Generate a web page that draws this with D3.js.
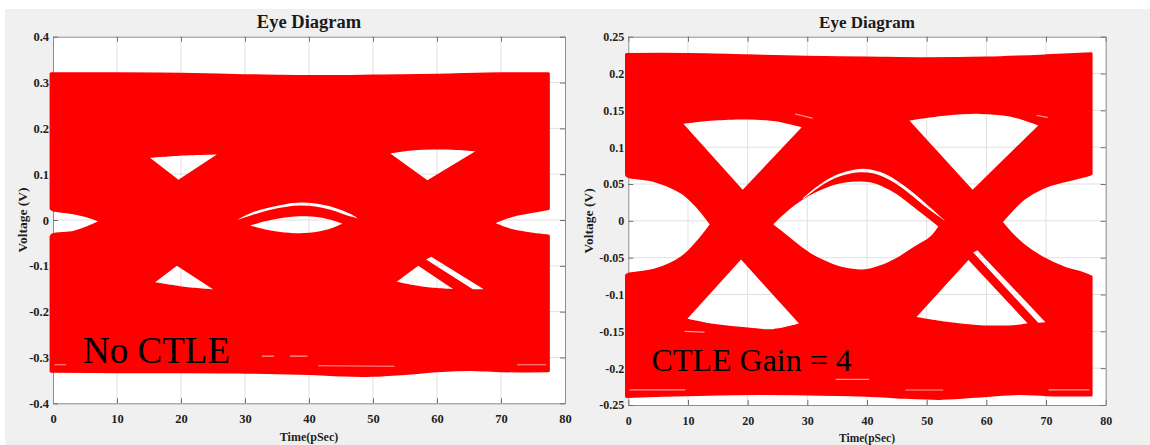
<!DOCTYPE html>
<html>
<head>
<meta charset="utf-8">
<script src="https://cdn.jsdelivr.net/npm/d3@7"></script>
<style>
  html, body { margin: 0; padding: 0; background: #ffffff; }
  svg { display: block; }
</style>
</head>
<body>
<svg id="chart" width="1150" height="445"></svg>
<script>
// ---------------------------------------------------------------
// Eye diagrams: receiver waveform without CTLE and with CTLE gain 4.
// Every shape is a list of [time (ps), voltage (V)] points.
// ---------------------------------------------------------------

// shared axis values
const timeTicks = [0, 10, 20, 30, 40, 50, 60, 70, 80];
const timeTickLabels = ["0", "10", "20", "30", "40", "50", "60", "70", "80"];

// ---------- No CTLE ----------
const noCtleVoltTicks = [-0.4, -0.3, -0.2, -0.1, 0, 0.1, 0.2, 0.3, 0.4];
const noCtleVoltLabels = ["-0.4", "-0.3", "-0.2", "-0.1", "0", "0.1", "0.2", "0.3", "0.4"];

// outer envelope of all traces
const noCtleTop = [[-0.3, 0.319], [10, 0.319], [20, 0.318], [30, 0.315], [40, 0.313], [50, 0.314], [60, 0.316], [70, 0.319], [77.4, 0.319]];
const noCtleRightOpenUpper = [[77.4, 0.025], [75, 0.019], [72.3, 0.012], [70.5, 0.004], [68.6, -0.007]];
const noCtleRightOpenLower = [[68.6, -0.007], [70.5, -0.018], [72.3, -0.025], [75, -0.031], [77.4, -0.035]];
const noCtleBottom = [[77.4, -0.329], [70, -0.329], [65.3, -0.326], [60, -0.329], [55, -0.335], [50, -0.339], [45, -0.338], [40, -0.335], [30, -0.332], [20, -0.331], [10, -0.331], [-0.3, -0.330]];
const noCtleLeftOpenLower = [[-0.3, -0.036], [0, -0.032], [3.2, -0.027], [5.3, -0.017], [7.6, -0.003]];
const noCtleLeftOpenUpper = [[7.6, -0.003], [5.3, 0.009], [3.2, 0.016], [0, 0.022], [-0.3, 0.025]];

// openings inside the envelope
const noCtleUpperEye1Top = [[15.2, 0.1355], [20.5, 0.1405], [25.6, 0.1428]];
const noCtleUpperEye1Tip = [[19.6, 0.0881]];
const noCtleUpperEye2Top = [[52.7, 0.145], [56, 0.1515], [59.5, 0.1538], [63, 0.153], [66.0, 0.150]];
const noCtleUpperEye2Tip = [[58.5, 0.0866]];
const noCtleLowerEye1Tip = [[19.36, -0.1001]];
const noCtleLowerEye1Base = [[25.0, -0.1511], [20.5, -0.1455], [15.96, -0.1359]];
const noCtleLowerEye2Tip = [[57.07, -0.1001]];
const noCtleLowerEye2Base = [[62.5, -0.1505], [58, -0.1455], [53.7, -0.1345]];
const noCtleStrip = [[58.3, -0.086], [59.1, -0.080], [67.3, -0.151], [65.6, -0.151]];
const noCtleCentreTop = [[30.8, -0.012], [33, -0.003], [35.5, 0.004], [38.5, 0.008], [41.5, 0.006], [43.5, 0.0], [45.2, -0.008]];
const noCtleCentreBottom = [[45.2, -0.008], [43.5, -0.018], [41.5, -0.025], [38.5, -0.0287], [35.5, -0.026], [33, -0.02], [30.8, -0.012]];
const noCtleArcUpper = [[28.7, 0.0], [31, 0.016], [34, 0.028], [36.5, 0.035], [38.7, 0.038], [41, 0.036], [44, 0.027], [46.5, 0.013], [47.6, 0.004]];
const noCtleArcLower = [[47.6, 0.004], [46, 0.010], [43.5, 0.022], [41, 0.0295], [38.7, 0.0315], [36.5, 0.029], [34, 0.0225], [31, 0.0105], [28.7, 0.0]];

// hairline gaps between neighbouring traces
const noCtleTraceGaps = [
  [[0.3, -0.316], [2.0, -0.316]],
  [[72.6, -0.316], [77.0, -0.316]],
  [[32.7, -0.297], [34.5, -0.297]],
  [[37.1, -0.297], [39.7, -0.297]],
  [[41.5, -0.318], [53.3, -0.319]]
];

// ---------- CTLE gain = 4 ----------
const ctleVoltTicks = [-0.25, -0.2, -0.15, -0.1, -0.05, 0, 0.05, 0.1, 0.15, 0.2, 0.25];
const ctleVoltLabels = ["-0.25", "-0.2", "-0.15", "-0.1", "-0.05", "0", "0.05", "0.1", "0.15", "0.2", "0.25"];

const ctleTop = [[-0.3, 0.226], [10, 0.226], [20, 0.224], [30, 0.222], [40, 0.221], [50, 0.220], [60, 0.221], [70, 0.224], [77.55, 0.227]];
const ctleRightOpenUpper = [[77.55, 0.064], [76, 0.060], [73.2, 0.0546], [69.5, 0.0456], [66.2, 0.030], [64.2, 0.014], [62.45, -0.0016]];
const ctleRightOpenLower = [[62.45, -0.0016], [64.2, -0.018], [66.2, -0.033], [69.5, -0.051], [73.2, -0.0646], [76, -0.071], [77.55, -0.076]];
const ctleBottom = [[77.55, -0.2365], [70, -0.236], [65.6, -0.2345], [60, -0.237], [52.7, -0.241], [45, -0.239], [40, -0.2367], [30, -0.235], [21.9, -0.2345], [10, -0.236], [-0.3, -0.2385]];
const ctleLeftOpenLower = [[-0.3, -0.074], [0, -0.0727], [4.47, -0.0668], [8.94, -0.05], [11.7, -0.028], [13.95, -0.0047]];
const ctleLeftOpenUpper = [[13.95, -0.0047], [11.7, 0.0183], [8.94, 0.0387], [4.47, 0.0545], [0, 0.0605], [-0.3, 0.0625]];

const ctleUpperEye1Top = [[9.22, 0.1317], [12, 0.1345], [14.5, 0.1362], [20.1, 0.1375], [24.6, 0.1352], [29.06, 0.1271]];
const ctleUpperEye1Tip = [[19.17, 0.0423]];
const ctleUpperEye2Top = [[47.1, 0.1362], [53.4, 0.143], [58.9, 0.1452], [63.96, 0.1416], [68.7, 0.1294]];
const ctleUpperEye2Tip = [[57.7, 0.0423]];
const ctleLowerEye1Tip = [[18.9, -0.0526]];
const ctleLowerEye1Base = [[28.6, -0.1395], [24.2, -0.147], [20.1, -0.1447], [14.5, -0.1402], [9.9, -0.133]];
const ctleLowerEye2Tip = [[57.0, -0.053]];
const ctleLowerEye2Base = [[66.9, -0.139], [64.5, -0.1416], [58.9, -0.1416], [53.35, -0.137], [48.3, -0.1305]];
const ctleCentreTop = [[24.3, -0.0047], [26.5, 0.012], [29.06, 0.0278], [31.5, 0.039], [33.8, 0.047], [36.3, 0.052], [38.5, 0.0535], [40.7, 0.052], [42.5, 0.047], [45, 0.036], [47.8, 0.0187], [50, 0.005], [51.95, -0.0075]];
const ctleCentreBottom = [[51.95, -0.0075], [50.5, -0.022], [47.8, -0.0355], [45, -0.05], [42, -0.061], [39.3, -0.066], [36.3, -0.0635], [33.5, -0.0558], [31, -0.046], [29.06, -0.0355], [26.5, -0.019], [24.3, -0.0047]];
const ctleArcUpper = [[29.3, 0.031], [31.5, 0.046], [34, 0.059], [36.5, 0.067], [38.8, 0.0705], [41, 0.069], [43.5, 0.062], [46, 0.049], [48.5, 0.033], [50.6, 0.018], [53.1, 0.0]];
const ctleArcLower = [[53.1, 0.0], [50.4, 0.0155], [48.3, 0.029], [45.9, 0.0445], [43.4, 0.057], [41, 0.0645], [38.8, 0.066], [36.5, 0.0628], [34, 0.0555], [31.5, 0.043], [29.3, 0.0295]];
const ctleStrip = [[57.8, -0.043], [58.5, -0.040], [69.9, -0.1375], [68.7, -0.1385]];

const ctleTraceGaps = [
  [[28, 0.145], [30.8, 0.1395]],
  [[68.5, 0.143], [70.2, 0.1405]],
  [[0.3, -0.2295], [9.5, -0.2295]],
  [[70.5, -0.2295], [77.2, -0.2295]],
  [[34.8, -0.2152], [40.3, -0.2152]],
  [[46.5, -0.2297], [52.7, -0.2297]],
  [[9.5, -0.150], [12.7, -0.151]]
];

// ---------------------------------------------------------------
// panel descriptions (layout + which shapes belong together)
// ---------------------------------------------------------------
const panels = [
  {
    frame: { left: 53, right: 565, top: 36.7, bottom: 403.3 },
    voltDomain: [-0.4, 0.4],
    voltTicks: noCtleVoltTicks, voltLabels: noCtleVoltLabels,
    outline: [noCtleTop, noCtleRightOpenUpper, noCtleRightOpenLower, noCtleBottom, noCtleLeftOpenLower, noCtleLeftOpenUpper],
    openings: [
      [noCtleUpperEye1Top, noCtleUpperEye1Tip],
      [noCtleUpperEye2Top, noCtleUpperEye2Tip],
      [noCtleLowerEye1Tip, noCtleLowerEye1Base],
      [noCtleLowerEye2Tip, noCtleLowerEye2Base],
      noCtleStrip.map(p => [p]),
      [noCtleCentreTop, noCtleCentreBottom],
      [noCtleArcUpper, noCtleArcLower]
    ],
    gaps: noCtleTraceGaps,
    note: "No CTLE", noteAt: [4.7, -0.311], noteSize: 37,
    titleSize: 18.5, tickSize: 12.5, xLabelSize: 12, xPad: 10.6,
    xLabelY: 441, yLabelX: 27
  },
  {
    frame: { left: 628.3, right: 1105.7, top: 36.7, bottom: 405 },
    voltDomain: [-0.25, 0.25],
    voltTicks: ctleVoltTicks, voltLabels: ctleVoltLabels,
    outline: [ctleTop, ctleRightOpenUpper, ctleRightOpenLower, ctleBottom, ctleLeftOpenLower, ctleLeftOpenUpper],
    openings: [
      [ctleUpperEye1Top, ctleUpperEye1Tip],
      [ctleUpperEye2Top, ctleUpperEye2Tip],
      [ctleLowerEye1Tip, ctleLowerEye1Base],
      [ctleLowerEye2Tip, ctleLowerEye2Base],
      ctleStrip.map(p => [p]),
      [ctleCentreTop, ctleCentreBottom],
      [ctleArcUpper, ctleArcLower]
    ],
    gaps: ctleTraceGaps,
    note: "CTLE Gain = 4", noteAt: [3.9, -0.2045], noteSize: 32,
    titleSize: 17, tickSize: 12, xLabelSize: 11.5, xPad: 11.5,
    xLabelY: 442, yLabelX: 593
  }
];

const SERIF = "'Liberation Serif', 'Times New Roman', 'DejaVu Serif', serif";
const svg = d3.select("#chart");

// figure background
svg.append("rect")
  .attr("x", 5).attr("y", 9).attr("width", 1145).attr("height", 436)
  .attr("fill", "#f0f0f0");

// closed ring from consecutive boundary pieces; each piece is smoothed,
// and the joins between pieces stay sharp
function ringPath(pieces, x, y) {
  const smooth = d3.line()
    .x(d => x(d[0])).y(d => y(d[1]))
    .curve(d3.curveCatmullRom.alpha(0.5));
  let s = "";
  pieces.forEach((piece, i) => {
    let seg = piece.length > 1
      ? smooth(piece).replace(/Z$/, "")
      : `M${x(piece[0][0])},${y(piece[0][1])}`;
    if (i > 0) seg = "L" + seg.slice(1);
    s += seg;
  });
  return s + "Z";
}

function styleAxis(sel, size) {
  sel.attr("font-family", SERIF).attr("font-size", size).attr("font-weight", "bold");
  sel.select("path.domain").attr("stroke", "#8c8c8c").attr("stroke-width", 1);
  sel.selectAll(".tick line").attr("stroke", "#6f6f6f");
  sel.selectAll(".tick text").attr("fill", "#1e1e1e");
}

panels.forEach(p => {
  const f = p.frame;
  const x = d3.scaleLinear().domain([0, 80]).range([f.left, f.right]);
  const y = d3.scaleLinear().domain(p.voltDomain).range([f.bottom, f.top]);
  const g = svg.append("g");

  // plot area
  g.append("rect")
    .attr("x", f.left).attr("y", f.top)
    .attr("width", f.right - f.left).attr("height", f.bottom - f.top)
    .attr("fill", "#ffffff");

  // grid
  g.append("g").selectAll("line").data(timeTicks.slice(1, -1)).join("line")
    .attr("x1", d => x(d)).attr("x2", d => x(d))
    .attr("y1", f.top).attr("y2", f.bottom)
    .attr("stroke", "#e0e0e0").attr("stroke-width", 1);
  g.append("g").selectAll("line").data(p.voltTicks.slice(1, -1)).join("line")
    .attr("x1", f.left).attr("x2", f.right)
    .attr("y1", d => y(d)).attr("y2", d => y(d))
    .attr("stroke", "#e0e0e0").attr("stroke-width", 1);

  // axes with inward ticks on all four sides
  const tLabel = d => timeTickLabels[timeTicks.indexOf(d)];
  const vLabel = d => p.voltLabels[p.voltTicks.indexOf(d)];
  g.append("g").attr("transform", `translate(0,${f.bottom})`)
    .call(d3.axisBottom(x).tickValues(timeTicks).tickFormat(tLabel)
      .tickSizeInner(-5).tickSizeOuter(0).tickPadding(p.xPad))
    .call(s => styleAxis(s, p.tickSize));
  g.append("g").attr("transform", `translate(0,${f.top})`)
    .call(d3.axisTop(x).tickValues(timeTicks).tickFormat("")
      .tickSizeInner(-5).tickSizeOuter(0))
    .call(s => styleAxis(s, p.tickSize));
  g.append("g").attr("transform", `translate(${f.left},0)`)
    .call(d3.axisLeft(y).tickValues(p.voltTicks).tickFormat(vLabel)
      .tickSizeInner(-5).tickSizeOuter(0).tickPadding(4))
    .call(s => styleAxis(s, p.tickSize));
  g.append("g").attr("transform", `translate(${f.right},0)`)
    .call(d3.axisRight(y).tickValues(p.voltTicks).tickFormat("")
      .tickSizeInner(-5).tickSizeOuter(0))
    .call(s => styleAxis(s, p.tickSize));

  // overlaid traces: envelope with the eye openings cut out
  const outer = ringPath(p.outline, x, y);
  const holes = p.openings.map(r => ringPath(r, x, y)).join("");
  g.append("path")
    .attr("d", outer + holes)
    .attr("fill", "#ff0000")
    .attr("fill-rule", "evenodd");
  g.append("path")
    .attr("d", outer)
    .attr("fill", "none")
    .attr("stroke", "#ff0000")
    .attr("stroke-width", 3)
    .attr("stroke-linejoin", "round");

  // hairline gaps between traces
  const straight = d3.line().x(d => x(d[0])).y(d => y(d[1]));
  g.append("g").selectAll("path").data(p.gaps).join("path")
    .attr("d", straight)
    .attr("fill", "none")
    .attr("stroke", "#ffffff")
    .attr("stroke-opacity", 0.6)
    .attr("stroke-width", 1.1)
    .attr("stroke-linecap", "round");

  // titles and axis names
  g.append("text")
    .attr("x", (f.left + f.right) / 2).attr("y", 28)
    .attr("text-anchor", "middle")
    .attr("font-family", SERIF).attr("font-weight", "bold")
    .attr("font-size", p.titleSize).attr("fill", "#1a1a1a")
    .text("Eye Diagram");
  g.append("text")
    .attr("x", (f.left + f.right) / 2).attr("y", p.xLabelY)
    .attr("text-anchor", "middle")
    .attr("font-family", SERIF).attr("font-weight", "bold")
    .attr("font-size", p.xLabelSize).attr("fill", "#1e1e1e")
    .text("Time(pSec)");
  g.append("text")
    .attr("transform", `translate(${p.yLabelX},${(f.top + f.bottom) / 2}) rotate(-90)`)
    .attr("text-anchor", "middle")
    .attr("font-family", SERIF).attr("font-weight", "bold")
    .attr("font-size", 13.5).attr("fill", "#1e1e1e")
    .text("Voltage (V)");

  // case annotation
  g.append("text")
    .attr("x", x(p.noteAt[0])).attr("y", y(p.noteAt[1]))
    .attr("font-family", SERIF)
    .attr("font-size", p.noteSize).attr("fill", "#000000")
    .text(p.note);
});
</script>
</body>
</html>
